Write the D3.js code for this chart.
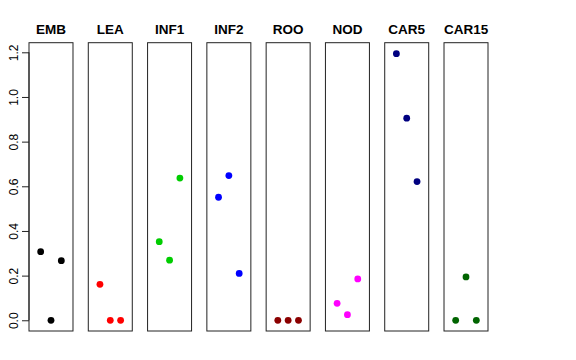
<!DOCTYPE html>
<html>
<head>
<meta charset="utf-8">
<script src="https://cdn.jsdelivr.net/npm/d3@7"></script>
<style>
    body { margin: 0; background: white; }
    text { font-family: "Liberation Sans", Arial, sans-serif; }
</style>
</head>
<body>
<svg id="my-svg"></svg>
<script>
const tissues = ["EMB", "LEA", "INF1", "INF2", "ROO", "NOD", "CAR5", "CAR15"];
const colors = ["#000000", "#FF0000", "#00CD00", "#0000FF", "#8B0000", "#FF00FF", "#000080", "#006400"];
// three replicates per tissue, plotted at x = 1, 2, 3
const values = [
    [0.307, 0.0, 0.267],
    [0.161, 0.0, 0.0],
    [0.352, 0.269, 0.637],
    [0.551, 0.648, 0.210],
    [0.0, 0.0, 0.0],
    [0.076, 0.025, 0.185],
    [1.194, 0.905, 0.621],
    [0.0, 0.194, 0.0]
];
const yTicks = [0, 0.2, 0.4, 0.6, 0.8, 1.0, 1.2];

const width = 576;
const height = 360;
const panelTop = 42.7;
const panelBottom = 331;

const svg = d3.select("#my-svg")
    .attr("width", width)
    .attr("height", height);

const panel = d3.scaleBand()
    .domain(tissues)
    .range([29, 488])
    .paddingInner(0.258)
    .paddingOuter(0);

const y = d3.scaleLinear()
    .domain([-0.048, 1.243])
    .range([panelBottom, panelTop]);

const x = d3.scaleLinear()
    .domain([-0.13, 4.13])
    .range([0, panel.bandwidth()]);

const panels = svg.selectAll(".panel")
    .data(tissues)
    .enter().append("g")
    .attr("class", "panel")
    .attr("transform", d => `translate(${panel(d)},0)`);

panels.append("rect")
    .attr("x", 0)
    .attr("y", panelTop)
    .attr("width", panel.bandwidth())
    .attr("height", panelBottom - panelTop)
    .attr("fill", "none")
    .attr("stroke", "#222")
    .attr("stroke-width", 1);

panels.append("text")
    .attr("x", panel.bandwidth() / 2)
    .attr("y", 34)
    .attr("text-anchor", "middle")
    .style("font-size", "13.5px")
    .style("font-weight", "bold")
    .text(d => d);

panels.selectAll("circle")
    .data((d, i) => values[i].map((v, j) => ({ v: v, j: j, color: colors[i] })))
    .enter().append("circle")
    .attr("cx", d => x(d.j + 1))
    .attr("cy", d => y(d.v))
    .attr("r", 3.4)
    .attr("fill", d => d.color);

// y axis on the first panel only
const yAxis = svg.append("g")
    .attr("transform", `translate(${panel(tissues[0])},0)`)
    .call(d3.axisLeft(y)
        .tickValues(yTicks)
        .tickSize(7)
        .tickPadding(4)
        .tickFormat(d3.format(".1f")));

yAxis.select(".domain")
    .attr("d", `M0,${y(0)}V${y(1.2)}`)
    .attr("stroke", "#222");

yAxis.selectAll(".tick line").attr("stroke", "#222");

yAxis.selectAll(".tick text")
    .attr("transform", "rotate(-90)")
    .attr("x", 0)
    .attr("y", -11)
    .attr("dy", 0)
    .attr("text-anchor", "middle")
    .style("font-family", "Liberation Sans, Arial, sans-serif")
    .style("font-size", "12px")
    .attr("fill", "#000");
</script>
</body>
</html>
